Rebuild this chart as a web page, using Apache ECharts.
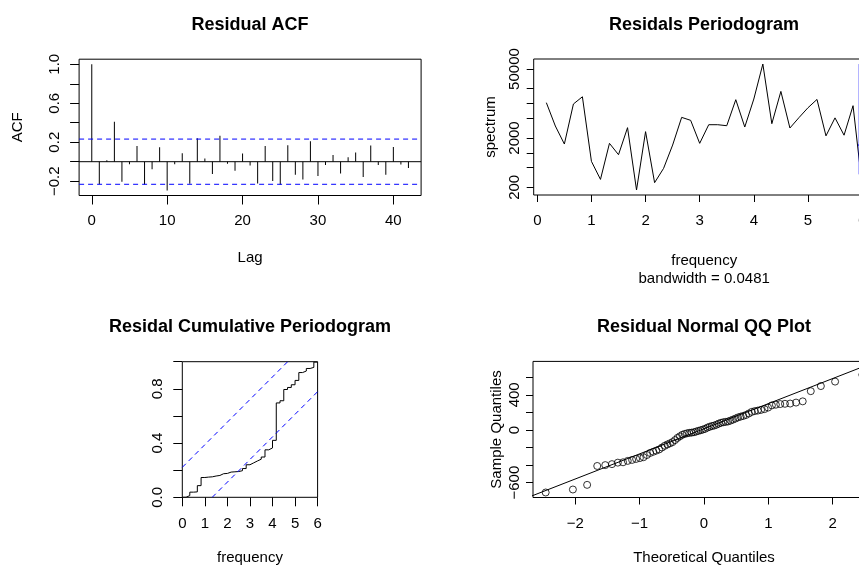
<!DOCTYPE html>
<html>
<head>
<meta charset="utf-8">
<script src="https://cdn.jsdelivr.net/npm/echarts@6/dist/echarts.min.js"></script>
<style>
  html, body { margin: 0; padding: 0; background: #fff; }
  #chart { width: 859px; height: 572px; }
</style>
</head>
<body>
<div id="chart"></div>
<script>
// ---- residual ACF ----
const acfLags = [0,1,2,3,4,5,6,7,8,9,10,11,12,13,14,15,16,17,18,19,20,21,22,23,24,25,26,27,28,29,30,31,32,33,34,35,36,37,38,39,40,41,42];
const acfValues = [1.0,-0.232,0.015,0.41,-0.206,-0.025,0.16,-0.233,-0.077,0.148,-0.295,-0.025,0.087,-0.227,0.241,0.034,-0.126,0.266,-0.022,-0.092,0.083,-0.04,-0.225,0.16,-0.198,-0.237,0.169,-0.133,-0.183,0.21,-0.146,-0.034,0.068,-0.122,0.046,0.094,-0.158,0.167,-0.034,-0.133,0.15,-0.03,-0.064];
const acfLimit = 0.232;
const acfLagRange = [-1.68, 43.68];

// ---- periodogram ----
const specFreq = [0.167,0.333,0.5,0.667,0.833,1,1.167,1.333,1.5,1.667,1.833,2,2.167,2.333,2.5,2.667,2.833,3,3.167,3.333,3.5,3.667,3.833,4,4.167,4.333,4.5,4.667,4.833,5,5.167,5.333,5.5,5.667,5.833,6];
const specValues = [10400,3500,1510,9770,13700,673,290,1560,918,3240,177,2690,249,485,1440,5240,4560,1560,3720,3720,3550,11960,3340,12330,63100,3900,17600,3190,5160,8200,12100,2210,5120,2280,9040,220];
const specYTicks = [200,500,1000,2000,5000,10000,20000,50000];
const specYLabels = [200,2000,50000];
const bandwidth = 0.0481;
const ciFreq = 5.947, ciLow = 367, ciHigh = 63100, ciMid = 1440;

// ---- cumulative periodogram ----
const cumFreq = [0,0.167,0.333,0.5,0.667,0.833,1,1.167,1.333,1.5,1.667,1.833,2,2.167,2.333,2.5,2.667,2.833,3,3.167,3.333,3.5,3.667,3.833,4,4.167,4.333,4.5,4.667,4.833,5,5.167,5.333,5.5,5.667,5.833,6];
const cumValues = [0,0.013,0.038,0.040,0.086,0.146,0.149,0.151,0.157,0.161,0.174,0.176,0.186,0.188,0.190,0.196,0.212,0.240,0.254,0.268,0.281,0.297,0.350,0.364,0.420,0.696,0.712,0.795,0.810,0.830,0.862,0.920,0.931,0.950,0.958,0.997,1.0];
const cumCrit = 0.2212;
const cumMaxFreq = 6;

// ---- normal QQ ----
const theoQ = [-2.460,-2.037,-1.816,-1.659,-1.534,-1.430,-1.339,-1.258,-1.185,-1.117,-1.055,-0.996,-0.940,-0.887,-0.837,-0.788,-0.742,-0.697,-0.653,-0.610,-0.569,-0.528,-0.489,-0.450,-0.412,-0.374,-0.337,-0.300,-0.264,-0.228,-0.193,-0.157,-0.122,-0.087,-0.052,-0.017,
  0.017,0.052,0.087,0.122,0.157,0.193,0.228,0.264,0.300,0.337,0.374,0.412,0.450,0.489,0.528,0.569,0.610,0.653,0.697,0.742,0.788,0.837,0.887,0.940,0.996,1.055,1.117,1.185,1.258,1.339,1.430,1.534,1.659,1.816,2.037,2.460];
const sampleQ = [-712,-678,-625,-410,-400,-389,-372,-368,-352,-341,-330,-320,-310,-285,-262,-248,-235,-222,-200,-180,-165,-152,-138,-115,-90,-72,-55,-45,-38,-33,-30,-26,-18,-10,-3,5,
  13,27,36,45,50,60,72,82,88,92,97,107,118,130,143,152,160,171,188,206,215,221,229,238,255,280,288,295,298,301,312,326,442,500,551,629,724];
const qqIntercept = 14, qqSlope = 286;

const FONT = '"Liberation Sans", Arial, Helvetica, sans-serif';
const minus = s => String(s).replace('-', '\u2212');

function mkAxis(p) {
  return {
    type: 'value',
    gridIndex: p.grid,
    position: p.position,
    min: p.min,
    max: p.max,
    name: p.name || '',
    nameLocation: 'middle',
    nameGap: p.nameGap || 50,
    nameTextStyle: { color: '#000', fontFamily: FONT, fontSize: 15, lineHeight: 18 },
    axisLine: { show: false, onZero: false },
    splitLine: { show: false },
    axisTick: { show: true, length: p.tickLen, customValues: p.ticks, lineStyle: { color: '#000', width: 1 } },
    axisLabel: { show: true, customValues: p.labels, formatter: p.fmt, rotate: p.rotate || 0,
      margin: p.margin, color: '#000', fontFamily: FONT, fontSize: 15 }
  };
}

function segment(xi, yi, pts, color, dashed) {
  return {
    type: 'line', xAxisIndex: xi, yAxisIndex: yi, showSymbol: false, silent: true,
    data: pts, lineStyle: { color: color, width: 1, type: dashed ? [5, 4] : 'solid' }
  };
}

const gridStyle = { show: true, borderColor: '#000', borderWidth: 1, backgroundColor: 'transparent', outerBoundsMode: 'none', containLabel: false };

const option = {
  animation: false,
  backgroundColor: '#fff',
  title: [
    { text: 'Residual ACF', left: 250, top: 16 },
    { text: 'Residals Periodogram', left: 704, top: 16 },
    { text: 'Residal Cumulative Periodogram', left: 250, top: 318 },
    { text: 'Residual Normal QQ Plot', left: 704, top: 318 }
  ].map(t => Object.assign(t, { textAlign: 'center', padding: 0,
    textStyle: { color: '#000', fontFamily: FONT, fontSize: 18, fontWeight: 'bold' } })),
  grid: [
    Object.assign({ left: 79.1, top: 59.2, width: 342, height: 136.3 }, gridStyle),
    Object.assign({ left: 533.7, top: 59, width: 341, height: 136 }, gridStyle),
    Object.assign({ left: 182.3, top: 361.7, width: 135.3, height: 135.6 }, gridStyle),
    Object.assign({ left: 533, top: 361.4, width: 342, height: 136.1 }, gridStyle)
  ],
  xAxis: [
    mkAxis({ grid: 0, min: acfLagRange[0], max: acfLagRange[1], ticks: [0,10,20,30,40], labels: [0,10,20,30,40],
      fmt: v => minus(v), tickLen: 9, margin: 18, name: 'Lag', nameGap: 53 }),
    mkAxis({ grid: 1, min: -0.0667, max: 6.2333, ticks: [0,1,2,3,4,5,6], labels: [0,1,2,3,4,5,6],
      fmt: v => minus(v), tickLen: 7, margin: 18, name: 'frequency\nbandwidth = ' + bandwidth, nameGap: 57 }),
    mkAxis({ grid: 2, min: 0, max: cumMaxFreq, ticks: [0,1,2,3,4,5,6], labels: [0,1,2,3,4,5,6],
      fmt: v => minus(v), tickLen: 9, margin: 19, name: 'frequency', nameGap: 52 }),
    mkAxis({ grid: 3, min: -2.657, max: 2.657, ticks: [-2,-1,0,1,2], labels: [-2,-1,0,1,2],
      fmt: v => minus(v), tickLen: 7, margin: 19, name: 'Theoretical Quantiles', nameGap: 51 })
  ],
  yAxis: [
    mkAxis({ grid: 0, min: -0.347, max: 1.052, ticks: [-0.2,0,0.2,0.4,0.6,0.8,1.0], labels: [-0.2,0.2,0.6,1.0],
      fmt: v => minus(v.toFixed(1)), tickLen: 9, margin: 17, rotate: 90, name: 'ACF', nameGap: 52 }),
    // log axis that carries the periodogram line
    { type: 'log', logBase: 10, gridIndex: 1, position: 'left', min: 140, max: 79800,
      axisLine: { show: false }, axisTick: { show: false }, axisLabel: { show: false }, splitLine: { show: false } },
    // same range in log10 units, only draws ticks and labels
    mkAxis({ grid: 1, position: 'left', min: Math.log10(140), max: Math.log10(79800),
      ticks: specYTicks.map(Math.log10), labels: specYLabels.map(Math.log10),
      fmt: v => String(Math.round(Math.pow(10, v))), tickLen: 7, margin: 11, rotate: 90, name: 'spectrum', nameGap: 34 }),
    mkAxis({ grid: 2, min: 0, max: 1, ticks: [0,0.2,0.4,0.6,0.8,1.0], labels: [0,0.4,0.8],
      fmt: v => v.toFixed(1), tickLen: 9, margin: 17, rotate: 90 }),
    mkAxis({ grid: 3, min: -769, max: 781, ticks: [-600,-400,-200,0,200,400,600], labels: [-600,0,400],
      fmt: v => minus(v), tickLen: 7, margin: 11, rotate: 90, name: 'Sample Quantiles', nameGap: 22 })
  ],
  series: [
    {
      type: 'bar', xAxisIndex: 0, yAxisIndex: 0, barWidth: 1,
      data: acfLags.map((l, i) => [l, acfValues[i]]),
      itemStyle: { color: '#000' }, silent: true
    },
    segment(0, 0, [[acfLagRange[0], 0], [acfLagRange[1], 0]], '#000', false),
    segment(0, 0, [[acfLagRange[0], acfLimit], [acfLagRange[1], acfLimit]], '#0000ff', true),
    segment(0, 0, [[acfLagRange[0], -acfLimit], [acfLagRange[1], -acfLimit]], '#0000ff', true),
    {
      type: 'line', xAxisIndex: 1, yAxisIndex: 1, showSymbol: false, silent: true,
      data: specFreq.map((f, i) => [f, specValues[i]]),
      lineStyle: { color: '#000', width: 1 }
    },
    segment(1, 1, [[ciFreq, ciLow], [ciFreq, ciHigh]], '#0000ff', false),
    segment(1, 1, [[ciFreq - bandwidth / 2, ciMid], [ciFreq + bandwidth / 2, ciMid]], '#0000ff', false),
    {
      type: 'line', step: 'end', xAxisIndex: 2, yAxisIndex: 3, showSymbol: false, silent: true,
      data: cumFreq.map((f, i) => [f, cumValues[i]]),
      lineStyle: { color: '#000', width: 1 }
    },
    segment(2, 3, [[0, cumCrit], [cumMaxFreq * (1 - cumCrit), 1]], '#0000ff', true),
    segment(2, 3, [[cumMaxFreq * cumCrit, 0], [cumMaxFreq, 1 - cumCrit]], '#0000ff', true),
    {
      type: 'scatter', xAxisIndex: 3, yAxisIndex: 4, symbol: 'circle', symbolSize: 7, silent: true,
      data: theoQ.map((q, i) => [q, sampleQ[i]]),
      itemStyle: { color: 'rgba(0,0,0,0)', borderColor: '#000', borderWidth: 1 }
    },
    segment(3, 4, [[-3, qqIntercept - 3 * qqSlope], [3, qqIntercept + 3 * qqSlope]], '#000', false)
  ]
};

const chart = echarts.init(document.getElementById('chart'), null, { renderer: 'canvas' });
chart.setOption(option);
</script>
</body>
</html>
